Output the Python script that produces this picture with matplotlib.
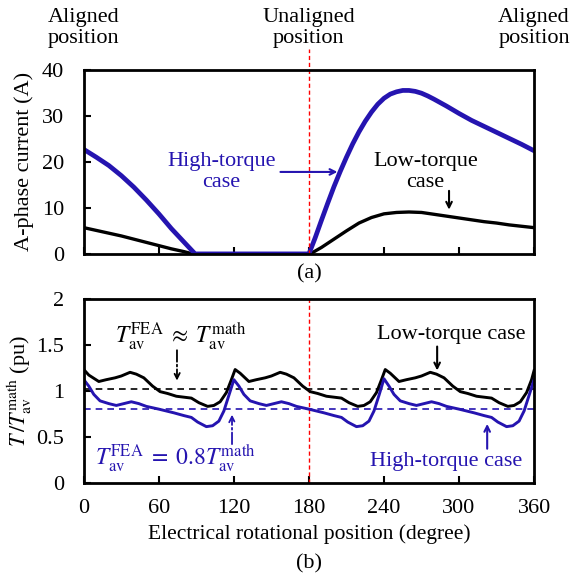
import matplotlib
matplotlib.use("Agg")
import matplotlib.pyplot as plt

plt.rcParams['font.family'] = ['Liberation Serif', 'DejaVu Serif']
plt.rcParams['mathtext.fontset'] = 'stix'

BLUE = '#2514b0'

# (a) A-phase current
cur_high_x = [0, 10, 20, 30, 40, 50, 60, 70, 80, 89, 180, 185, 190, 195, 200, 205, 210, 215, 220, 225, 230, 235, 240,
              245, 250, 255, 260, 265, 270, 275, 280, 290, 300, 310, 320, 330, 340, 350, 360]
cur_high_y = [22.7, 21.0, 19.2, 17.0, 14.5, 11.7, 8.7, 5.5, 2.6, 0, 0, 3.5, 7.3, 11.0, 14.6, 17.9, 21.0, 23.9, 26.5, 28.8, 30.8, 32.5, 33.8,
              34.7, 35.2, 35.5, 35.5, 35.3, 34.9, 34.3, 33.6, 32.1, 30.5, 29.0, 27.7, 26.4, 25.1, 23.8, 22.4]
cur_low_x = [0, 10, 20, 30, 40, 50, 60, 70, 80, 87, 181, 190, 200, 210, 220, 230, 240, 250, 260, 270, 280, 290, 300, 310, 320, 330, 340, 350, 360]
cur_low_y = [5.7, 5.1, 4.5, 3.9, 3.2, 2.5, 1.8, 1.1, 0.5, 0, 0, 1.4, 3.2, 5.0, 6.7, 7.9, 8.7, 9.0, 9.1, 9.0, 8.6, 8.2, 7.8, 7.4, 7.0, 6.7, 6.3, 6.0, 5.7]

# (b) normalised torque
trq_low_x = [0, 4, 12, 18, 25, 30, 37, 42, 48, 55, 61, 67, 74, 80, 86, 92, 99, 104, 109, 114, 118,
             121, 125, 132, 138, 145, 150, 157, 162, 168, 175, 181, 187, 194, 200, 206, 212, 219, 224, 229, 234, 238,
             241, 245, 252, 258, 265, 270, 277, 282, 288, 295, 301, 307, 314, 320, 326, 332, 339, 344, 349, 354, 358, 360]
trq_low_y = [1.23, 1.17, 1.10, 1.12, 1.14, 1.16, 1.20, 1.18, 1.14, 1.05, 0.99, 0.97, 0.94, 0.93, 0.92, 0.87, 0.83, 0.84, 0.88, 0.98, 1.12,
             1.23, 1.19, 1.10, 1.12, 1.14, 1.16, 1.20, 1.18, 1.14, 1.05, 0.99, 0.97, 0.94, 0.93, 0.92, 0.87, 0.83, 0.84, 0.88, 0.98, 1.12,
             1.23, 1.19, 1.10, 1.12, 1.14, 1.16, 1.20, 1.18, 1.14, 1.05, 0.99, 0.97, 0.94, 0.93, 0.92, 0.87, 0.83, 0.84, 0.88, 0.98, 1.12, 1.22]
trq_high_x = [0, 4, 8, 13, 20, 26, 32, 38, 44, 50, 60, 72, 80, 86, 91, 98, 103, 108, 112, 116,
              120, 124, 128, 133, 140, 146, 152, 158, 164, 170, 180, 192, 200, 206, 211, 218, 223, 228, 232, 236,
              240, 244, 248, 253, 260, 266, 272, 278, 284, 290, 300, 312, 320, 326, 331, 338, 343, 348, 352, 356, 360]
trq_high_y = [1.12, 1.05, 0.96, 0.89, 0.86, 0.84, 0.86, 0.88, 0.86, 0.83, 0.80, 0.76, 0.73, 0.71, 0.66, 0.61, 0.62, 0.67, 0.78, 0.95,
              1.12, 1.05, 0.96, 0.89, 0.86, 0.84, 0.86, 0.88, 0.86, 0.83, 0.80, 0.76, 0.73, 0.71, 0.66, 0.61, 0.62, 0.67, 0.78, 0.95,
              1.13, 1.05, 0.96, 0.89, 0.86, 0.84, 0.86, 0.88, 0.86, 0.83, 0.80, 0.76, 0.73, 0.71, 0.66, 0.61, 0.62, 0.67, 0.78, 0.95, 1.12]
avg_low = 1.02
avg_high = 0.80

fig = plt.figure(figsize=(5.7, 5.81), dpi=100)
ax1 = fig.add_axes([0.147, 0.563, 0.79, 0.317])
ax2 = fig.add_axes([0.147, 0.169, 0.79, 0.317])

for ax in (ax1, ax2):
    for s in ax.spines.values():
        s.set_linewidth(2)
    ax.tick_params(direction='in', length=5, width=1.5, labelsize=16)
    ax.tick_params(axis='y', pad=14)
    ax.set_xlim(0, 360)
    ax.set_xticks(range(0, 361, 60))

# top panel
ax1.plot(cur_low_x, cur_low_y, color='black', lw=2.4, solid_joinstyle='round')
ax1.plot(cur_high_x, cur_high_y, color=BLUE, lw=3.4, solid_joinstyle='round')
ax1.set_ylim(0, 40)
ax1.set_yticks([0, 10, 20, 30, 40])
ax1.tick_params(axis='x', labelbottom=False)
ax1.set_ylabel('A-phase current (A)', fontsize=16, labelpad=6)
ax1.plot([180, 180], [0, 44.5], color='red', lw=1, ls=(0, (3, 2)), clip_on=False)

ax1.text(110, 17.8, 'High-torque\ncase', color=BLUE, fontsize=16, ha='center', va='center', linespacing=1.1)
ax1.annotate('', xy=(205, 17.8), xytext=(155, 17.8),
             arrowprops=dict(arrowstyle='->', color=BLUE, lw=1.5))
ax1.text(273, 17.8, 'Low-torque\ncase', color='black', fontsize=16, ha='center', va='center', linespacing=1.1)
ax1.annotate('', xy=(292, 9.0), xytext=(292, 14.3),
             arrowprops=dict(arrowstyle='->', color='black', lw=1.5))

for xp, lab in [(0, 'Aligned\nposition'), (180, 'Unaligned\nposition'), (360, 'Aligned\nposition')]:
    ax1.text(xp, 49, lab, fontsize=16, ha='center', va='center', linespacing=1.15)
ax1.text(180, -4.4, '(a)', fontsize=16, ha='center', va='center')

# bottom panel
ax2.axhline(avg_low, color='black', lw=1.2, ls=(0, (4, 3)))
ax2.axhline(avg_high, color=BLUE, lw=1.2, ls=(0, (4, 3)))
ax2.axvline(180, color='red', lw=1, ls=(0, (3, 2)))
ax2.plot(trq_low_x, trq_low_y, color='black', lw=2.1, solid_joinstyle='round')
ax2.plot(trq_high_x, trq_high_y, color=BLUE, lw=2.1, solid_joinstyle='round')
ax2.set_ylim(0, 2)
ax2.set_yticks([0, 0.5, 1, 1.5, 2])
ax2.set_yticklabels(['0', '0.5', '1', '1.5', '2'])
ax2.tick_params(axis='x', pad=12)
ax2.set_ylabel(r'$T\,/T_{\mathrm{av}}^{\mathrm{math}}$ (pu)', fontsize=16, labelpad=2)
ax2.set_xlabel('Electrical rotational position (degree)', fontsize=15.5, labelpad=4)
ax2.text(180, -0.88, '(b)', fontsize=16, ha='center', va='center')

ax2.text(77, 1.59, r'$T_{\mathrm{av}}^{\mathrm{FEA}}\;\approx\;T_{\mathrm{av}}^{\mathrm{math}}$',
         fontsize=17, ha='center', va='center', color='black')
ax2.annotate('', xy=(74.5, 1.08), xytext=(74.5, 1.47),
             arrowprops=dict(arrowstyle='->', color='black', lw=1.3, ls='-.'))
ax2.text(73, 0.27, r'$T_{\mathrm{av}}^{\mathrm{FEA}}\;=\;0.8T_{\mathrm{av}}^{\mathrm{math}}$',
         fontsize=17, ha='center', va='center', color=BLUE)
ax2.annotate('', xy=(118.5, 0.77), xytext=(118.5, 0.39),
             arrowprops=dict(arrowstyle='->', color=BLUE, lw=1.3, ls='-.'))
ax2.text(294, 1.61, 'Low-torque case', fontsize=16, ha='center', va='center', color='black')
ax2.annotate('', xy=(282.5, 1.19), xytext=(282.5, 1.51),
             arrowprops=dict(arrowstyle='->', color='black', lw=1.5))
ax2.text(290, 0.23, 'High-torque case', fontsize=16, ha='center', va='center', color=BLUE)
ax2.annotate('', xy=(322.5, 0.67), xytext=(322.5, 0.34),
             arrowprops=dict(arrowstyle='->', color=BLUE, lw=1.5))

fig.savefig('out.png', dpi=100)
